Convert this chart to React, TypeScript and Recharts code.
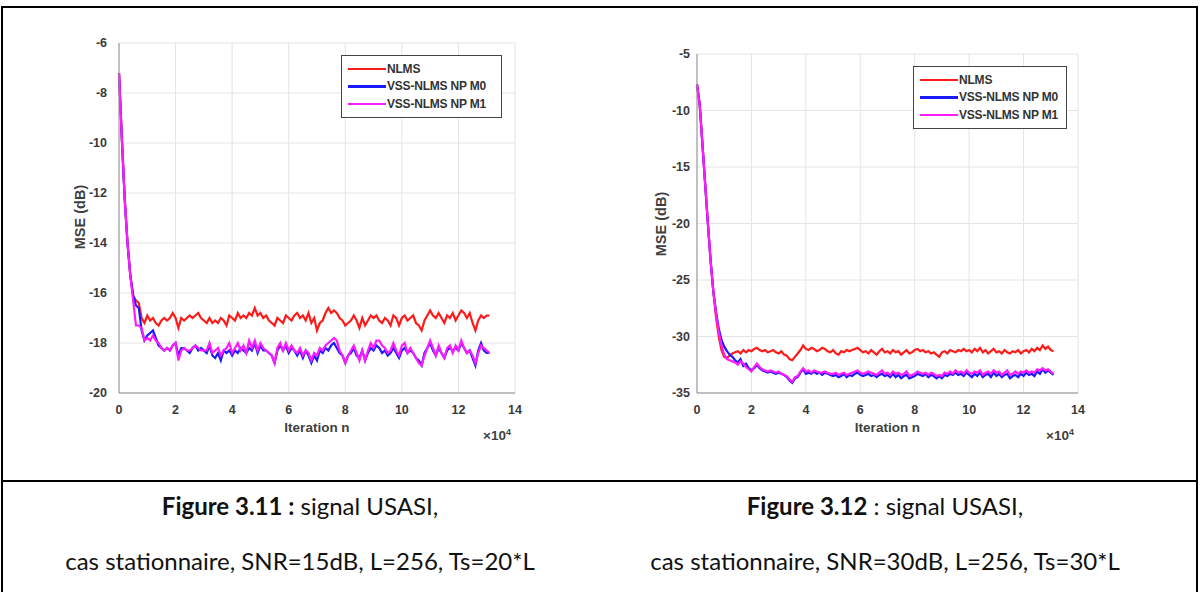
import React from 'react';
import { LineChart, Line, XAxis, YAxis, CartesianGrid } from 'recharts';

// iteration index, in units of 10^4
const ITER = [
  0, 0.1, 0.2, 0.3, 0.4, 0.5, 0.6, 0.7, 0.8, 0.9,
  1, 1.1, 1.2, 1.3, 1.4, 1.5, 1.6, 1.7, 1.8, 1.9,
  2, 2.1, 2.2, 2.3, 2.4, 2.5, 2.6, 2.7, 2.8, 2.9,
  3, 3.1, 3.2, 3.3, 3.4, 3.5, 3.6, 3.7, 3.8, 3.9,
  4, 4.1, 4.2, 4.3, 4.4, 4.5, 4.6, 4.7, 4.8, 4.9,
  5, 5.1, 5.2, 5.3, 5.4, 5.5, 5.6, 5.7, 5.8, 5.9,
  6, 6.1, 6.2, 6.3, 6.4, 6.5, 6.6, 6.7, 6.8, 6.9,
  7, 7.1, 7.2, 7.3, 7.4, 7.5, 7.6, 7.7, 7.8, 7.9,
  8, 8.1, 8.2, 8.3, 8.4, 8.5, 8.6, 8.7, 8.8, 8.9,
  9, 9.1, 9.2, 9.3, 9.4, 9.5, 9.6, 9.7, 9.8, 9.9,
  10, 10.1, 10.2, 10.3, 10.4, 10.5, 10.6, 10.7, 10.8, 10.9,
  11, 11.1, 11.2, 11.3, 11.4, 11.5, 11.6, 11.7, 11.8, 11.9,
  12, 12.1, 12.2, 12.3, 12.4, 12.5, 12.6, 12.7, 12.8, 12.9,
  13, 13.1,
];

// Figure 3.11 : SNR=15dB
const NLMS_15 = [
  -7.2, -9.8, -12.2, -14.0, -15.3, -16.1, -16.3, -16.4, -17.0, -17.2,
  -16.9, -17.1, -17.0, -17.2, -17.3, -17.1, -17.0, -17.1, -17.0, -16.8,
  -17.0, -17.4, -17.0, -17.1, -17.0, -16.9, -17.0, -16.9, -16.8, -17.0,
  -17.1, -17.2, -17.0, -17.2, -17.1, -17.2, -17.0, -17.1, -17.3, -16.9,
  -17.0, -17.1, -16.8, -17.0, -16.9, -17.0, -16.8, -16.9, -16.6, -16.9,
  -16.8, -17.0, -16.9, -17.1, -17.2, -17.3, -17.0, -17.1, -17.2, -16.9,
  -17.0, -17.1, -16.9, -16.8, -17.0, -16.9, -17.1, -16.8, -17.2, -17.0,
  -17.5, -17.2, -17.1, -16.8, -16.6, -16.8, -16.7, -16.8, -17.0, -17.1,
  -17.3, -17.2, -17.1, -16.9, -17.1, -17.4, -17.0, -17.3, -17.1, -16.9,
  -17.0, -16.9, -17.1, -17.2, -17.0, -17.1, -17.3, -16.9, -17.0, -17.3,
  -17.0, -16.9, -17.1, -17.0, -16.9, -17.2, -17.3, -17.5, -17.1, -16.9,
  -16.7, -16.9, -17.0, -16.8, -17.0, -17.2, -16.9, -17.0, -16.8, -17.1,
  -16.9, -16.7, -16.8, -17.0, -16.8, -17.2, -17.5, -17.1, -16.9, -17.0,
  -16.9, -16.9,
];
const M0_15 = [
  -7.2, -9.8, -12.2, -14.0, -15.3, -16.1, -16.5, -16.6, -17.5, -17.9,
  -17.7, -17.6, -17.5, -17.8, -18.1, -18.2, -18.3, -18.2, -18.3, -18.1,
  -18.0, -18.5, -18.2, -18.2, -18.3, -18.4, -18.2, -18.1, -18.3, -18.2,
  -18.3, -18.4, -18.1, -18.5, -18.6, -18.4, -18.7, -18.3, -18.4, -18.3,
  -18.5, -18.3, -18.4, -18.2, -18.3, -18.4, -18.2, -18.3, -18.0, -18.4,
  -18.1, -18.3, -18.3, -18.4, -18.5, -18.8, -18.3, -18.1, -18.3, -18.1,
  -18.4, -18.2, -18.3, -18.5, -18.3, -18.6, -18.3, -18.5, -18.8, -18.5,
  -18.7, -18.3, -18.4, -18.2, -18.3, -18.1, -18.0, -18.2, -18.4, -18.5,
  -18.8, -18.5, -18.4, -18.2, -18.5, -18.6, -18.3, -18.7, -18.4, -18.2,
  -18.3, -18.1, -18.2, -18.4, -18.3, -18.5, -18.4, -18.2, -18.4, -18.6,
  -18.3, -18.2, -18.4, -18.3, -18.4, -18.6, -18.7, -18.9, -18.4, -18.2,
  -18.0, -18.3, -18.5, -18.2, -18.4, -18.6, -18.3, -18.2, -18.3, -18.2,
  -18.3, -18.0, -18.2, -18.4, -18.3, -18.6, -18.9, -18.3, -18.0, -18.3,
  -18.4, -18.4,
];
const M1_15 = [
  -7.2, -9.8, -12.2, -14.0, -15.3, -16.3, -17.3, -17.3, -17.4, -17.9,
  -17.8, -17.9, -17.7, -17.9, -18.0, -18.2, -18.3, -18.2, -18.3, -18.1,
  -18.0, -18.7, -18.3, -18.2, -18.3, -18.3, -18.2, -18.1, -18.2, -18.3,
  -18.3, -18.3, -18.0, -18.4, -18.3, -18.2, -18.5, -18.3, -18.2, -18.0,
  -18.4, -18.2, -18.0, -18.3, -18.1, -18.4, -17.9, -18.2, -17.9, -18.3,
  -18.0, -18.2, -18.3, -18.4, -18.5, -18.8, -18.2, -18.0, -18.3, -18.0,
  -18.3, -18.1, -18.3, -18.4, -18.2, -18.5, -18.3, -18.4, -18.7, -18.4,
  -18.5, -18.2, -18.3, -18.1, -18.0, -17.9, -17.8, -17.9, -18.3, -18.5,
  -18.8, -18.5, -18.3, -18.1, -18.4, -18.7, -18.3, -18.7, -18.3, -18.0,
  -18.2, -17.9, -17.9, -18.1, -18.2, -18.4, -18.3, -18.0, -18.3, -18.5,
  -18.1, -18.0, -18.4, -18.2, -18.4, -18.6, -18.8, -18.9, -18.5, -18.2,
  -17.9, -18.2, -18.5, -18.1, -18.4, -18.6, -18.2, -18.1, -18.4, -18.1,
  -18.3, -17.9, -18.2, -18.4, -18.3, -18.5, -18.8, -18.4, -18.1, -18.2,
  -18.3, -18.4,
];

// Figure 3.12 : SNR=30dB
const NLMS_30 = [
  -7.7, -9.5, -13.0, -16.5, -20.0, -23.3, -26.0, -28.3, -30.0, -31.2,
  -31.8, -31.9, -31.7, -31.5, -31.4, -31.3, -31.5, -31.2, -31.4, -31.2,
  -31.3, -31.1, -31.0, -31.2, -31.3, -31.2, -31.4, -31.3, -31.2, -31.4,
  -31.5, -31.3, -31.6, -31.7, -32.0, -32.1, -31.8, -31.5, -31.2, -30.8,
  -31.1, -31.2, -31.0, -31.1, -31.3, -31.2, -31.0, -31.1, -31.3, -31.4,
  -31.2, -31.5, -31.6, -31.3, -31.4, -31.2, -31.3, -31.2, -31.1, -31.0,
  -31.2, -31.4, -31.3, -31.5, -31.2, -31.4, -31.6, -31.3, -31.1, -31.4,
  -31.3, -31.5, -31.2, -31.4, -31.3, -31.6, -31.4, -31.2, -31.5, -31.4,
  -31.2, -31.1, -31.3, -31.2, -31.4, -31.3, -31.5, -31.4, -31.6, -31.8,
  -31.4, -31.3, -31.5, -31.2, -31.3, -31.4, -31.2, -31.3, -31.1, -31.3,
  -31.2, -31.4, -31.1, -31.3, -31.0, -31.4, -31.2, -31.5, -31.3, -31.1,
  -31.4, -31.3, -31.5, -31.2, -31.4, -31.5, -31.3, -31.4, -31.2, -31.5,
  -31.3, -31.2, -31.4, -31.1, -31.3, -31.0, -31.2, -30.8, -31.1, -30.9,
  -31.2, -31.3,
];
const M0_30 = [
  -7.7, -9.5, -13.0, -16.5, -20.0, -23.3, -26.0, -27.8, -29.3, -30.3,
  -30.9, -31.3, -31.6, -31.8, -32.1, -32.3, -32.0, -32.6, -32.4, -32.8,
  -33.0, -32.8, -32.5, -32.8, -33.0, -33.1, -33.2, -33.1, -33.2, -33.3,
  -33.2, -33.3, -33.4, -33.6, -33.9, -34.1, -33.7, -33.6, -33.2, -32.9,
  -33.3, -33.2, -33.3, -33.1, -33.3, -33.2, -33.4, -33.2, -33.3, -33.4,
  -33.5, -33.4, -33.6, -33.5, -33.3, -33.6, -33.4, -33.5, -33.3, -33.2,
  -33.4, -33.5, -33.4, -33.3, -33.5, -33.4, -33.6, -33.4, -33.3, -33.5,
  -33.4, -33.6, -33.3, -33.6, -33.4, -33.7, -33.5, -33.4, -33.7, -33.6,
  -33.5, -33.3, -33.4, -33.5, -33.3, -33.6, -33.4, -33.5, -33.7, -33.5,
  -33.7, -33.4, -33.5, -33.3, -33.4, -33.2, -33.4, -33.3, -33.5, -33.2,
  -33.4, -33.6, -33.3, -33.5, -33.2, -33.6, -33.4, -33.3, -33.6, -33.2,
  -33.5, -33.3, -33.6, -33.4, -33.3, -33.7, -33.5, -33.4, -33.6, -33.3,
  -33.5, -33.2, -33.4, -33.3, -33.5, -33.1, -33.3, -32.9, -33.2, -33.0,
  -33.2, -33.4,
];
const M1_30 = [
  -7.7, -9.5, -13.0, -16.5, -20.0, -23.3, -26.0, -28.0, -29.6, -30.8,
  -31.6, -32.0, -32.1, -32.2, -32.3, -32.5, -32.2, -32.4, -32.7, -32.9,
  -33.1, -32.7, -32.4, -32.7, -32.9, -33.0, -33.1, -33.0, -33.1, -33.2,
  -33.1, -33.3, -33.4, -33.5, -33.8, -34.0, -33.6, -33.5, -33.1, -32.8,
  -33.1, -33.0, -33.2, -33.0, -33.1, -33.2, -33.2, -33.1, -33.2, -33.3,
  -33.3, -33.2, -33.4, -33.3, -33.2, -33.4, -33.3, -33.2, -33.1, -33.0,
  -33.2, -33.3, -33.2, -33.1, -33.2, -33.3, -33.4, -33.2, -33.0, -33.3,
  -33.2, -33.4, -33.1, -33.3, -33.2, -33.4, -33.3, -33.1, -33.5, -33.4,
  -33.3, -33.1, -33.2, -33.3, -33.2, -33.4, -33.2, -33.3, -33.5, -33.4,
  -33.5, -33.2, -33.3, -33.1, -33.3, -33.0, -33.2, -33.1, -33.3, -33.0,
  -33.2, -33.3, -33.1, -33.2, -33.0, -33.4, -33.2, -33.1, -33.3, -33.0,
  -33.2, -33.1, -33.4, -33.2, -33.0, -33.4, -33.3, -33.1, -33.3, -33.1,
  -33.2, -33.0, -33.2, -33.1, -33.2, -32.9, -33.0, -32.8, -33.0, -32.9,
  -33.1, -33.3,
];

const X_TICKS = [0, 2, 4, 6, 8, 10, 12, 14];
const Y_TICKS_15 = [-20, -18, -16, -14, -12, -10, -8, -6];
const Y_TICKS_30 = [-35, -30, -25, -20, -15, -10, -5];

const SERIES = [
  { key: 'nlms', name: 'NLMS', color: '#ff1a1a' },
  { key: 'm0', name: 'VSS-NLMS NP M0', color: '#1a1aff' },
  { key: 'm1', name: 'VSS-NLMS NP M1', color: '#ff1aff' },
];

const ARIAL = 'Arial, "Liberation Sans", sans-serif';
const axisFont = { fontFamily: ARIAL, fontSize: 12.5, fontWeight: 700, fill: '#3a3a3a' };
const labelStyle: React.CSSProperties = {
  position: 'absolute', fontFamily: ARIAL, fontSize: 13.5, fontWeight: 700, color: '#3f3f3f', whiteSpace: 'nowrap',
};
const captionStyle: React.CSSProperties = {
  position: 'absolute', width: 600, textAlign: 'center', fontFamily: 'Lato, "Open Sans", sans-serif',
  fontSize: 24, color: '#111', lineHeight: '32px',
};

const buildRows = (a: number[], b: number[], c: number[]) =>
  ITER.map((x, i) => ({ x, nlms: a[i], m0: b[i], m1: c[i] }));

interface PanelProps {
  left: number;
  top: number;
  width: number;
  height: number;
  margin: { top: number; right: number; left: number; bottom: number };
  yWidth: number;
  yTickMargin: number;
  yTicks: number[];
  rows: any[];
  legendPos: { left: number; top: number; width: number };
  yLabelPos: { left: number; top: number };
}

const LegendBox = ({ left, top, width }: { left: number; top: number; width: number }) => (
  <div style={{ position: 'absolute', left, top, width, border: '1px solid #444', background: '#fff', padding: '4px 0 4px 6px', boxSizing: 'border-box' }}>
    {SERIES.map(s => (
      <div key={s.key} style={{ display: 'flex', alignItems: 'center', height: 17.5 }}>
        <span style={{ display: 'inline-block', width: 38, height: 2.5, background: s.color, marginRight: 1 }} />
        <span style={{ fontFamily: ARIAL, fontSize: 12, fontWeight: 700, color: '#333', whiteSpace: 'nowrap', letterSpacing: -0.2 }}>
          {s.name}
        </span>
      </div>
    ))}
  </div>
);

const Panel = (p: PanelProps) => {
  const plotLeft = p.margin.left + p.yWidth;
  const plotRight = p.width - p.margin.right;
  return (
    <div style={{ position: 'absolute', left: p.left, top: p.top, width: p.width, height: p.height }}>
      <LineChart width={p.width} height={p.height} data={p.rows} margin={p.margin}>
        <CartesianGrid stroke="#e4e4e4" strokeWidth={1} />
        <XAxis
          dataKey="x"
          type="number"
          domain={[0, 14]}
          ticks={X_TICKS}
          height={37}
          tickLine={false}
          tickMargin={6}
          stroke="#8f8f8f"
          tick={axisFont}
          interval={0}
        />
        <YAxis
          type="number"
          domain={[p.yTicks[0], p.yTicks[p.yTicks.length - 1]]}
          ticks={p.yTicks}
          width={p.yWidth}
          tickLine={false}
          tickMargin={p.yTickMargin}
          stroke="#8f8f8f"
          tick={axisFont}
          interval={0}
        />
        {SERIES.map(s => (
          <Line
            key={s.key}
            dataKey={s.key}
            name={s.name}
            stroke={s.color}
            strokeWidth={2.2}
            dot={false}
            type="linear"
            isAnimationActive={false}
          />
        ))}
      </LineChart>
      <LegendBox {...p.legendPos} />
      <div style={{ ...labelStyle, fontSize: 14.5, left: p.yLabelPos.left, top: p.yLabelPos.top, transform: 'translate(-50%, -50%) rotate(-90deg)' }}>
        MSE (dB)
      </div>
      <div style={{ ...labelStyle, left: (plotLeft + plotRight) / 2, top: 397, transform: 'translate(-50%, -50%)' }}>
        Iteration n
      </div>
      <div style={{ ...labelStyle, left: plotRight - 32, top: 405, transform: 'translateY(-50%)' }}>
        ×10<sup style={{ fontSize: 9 }}>4</sup>
      </div>
    </div>
  );
};

export default function App() {
  const rows15 = buildRows(NLMS_15, M0_15, M1_15);
  const rows30 = buildRows(NLMS_30, M0_30, M1_30);
  return (
    <div style={{ position: 'absolute', left: 0, top: 0, width: 1200, height: 592, background: '#fff', overflow: 'hidden' }}>
      {/* table borders */}
      <div style={{ position: 'absolute', left: 1, top: 6, width: 1197, height: 2, background: '#000' }} />
      <div style={{ position: 'absolute', left: 1, top: 6, width: 2, height: 586, background: '#000' }} />
      <div style={{ position: 'absolute', left: 1196, top: 6, width: 2, height: 586, background: '#000' }} />
      <div style={{ position: 'absolute', left: 1, top: 480, width: 1197, height: 2, background: '#000' }} />

      <Panel
        left={60} top={30} width={470} height={400}
        margin={{ top: 13, right: 15, left: 0, bottom: 0 }}
        yWidth={59}
        yTickMargin={6}
        yTicks={Y_TICKS_15}
        rows={rows15}
        legendPos={{ left: 281, top: 25, width: 161 }}
        yLabelPos={{ left: 20, top: 187 }}
      />
      <Panel
        left={640} top={30} width={450} height={400}
        margin={{ top: 24, right: 12, left: 0, bottom: 0 }}
        yWidth={57}
        yTickMargin={1}
        yTicks={Y_TICKS_30}
        rows={rows30}
        legendPos={{ left: 273, top: 36, width: 154 }}
        yLabelPos={{ left: 21, top: 194 }}
      />

      <div style={{ ...captionStyle, left: 0, top: 490 }}>
        <b>Figure 3.11 :</b> signal USASI,
      </div>
      <div style={{ ...captionStyle, left: 0, top: 545 }}>
        cas stationnaire, SNR=15dB, L=256, Ts=20*L
      </div>
      <div style={{ ...captionStyle, left: 585, top: 490 }}>
        <b>Figure 3.12</b> : signal USASI,
      </div>
      <div style={{ ...captionStyle, left: 585, top: 545 }}>
        cas stationnaire, SNR=30dB, L=256, Ts=30*L
      </div>
    </div>
  );
}
